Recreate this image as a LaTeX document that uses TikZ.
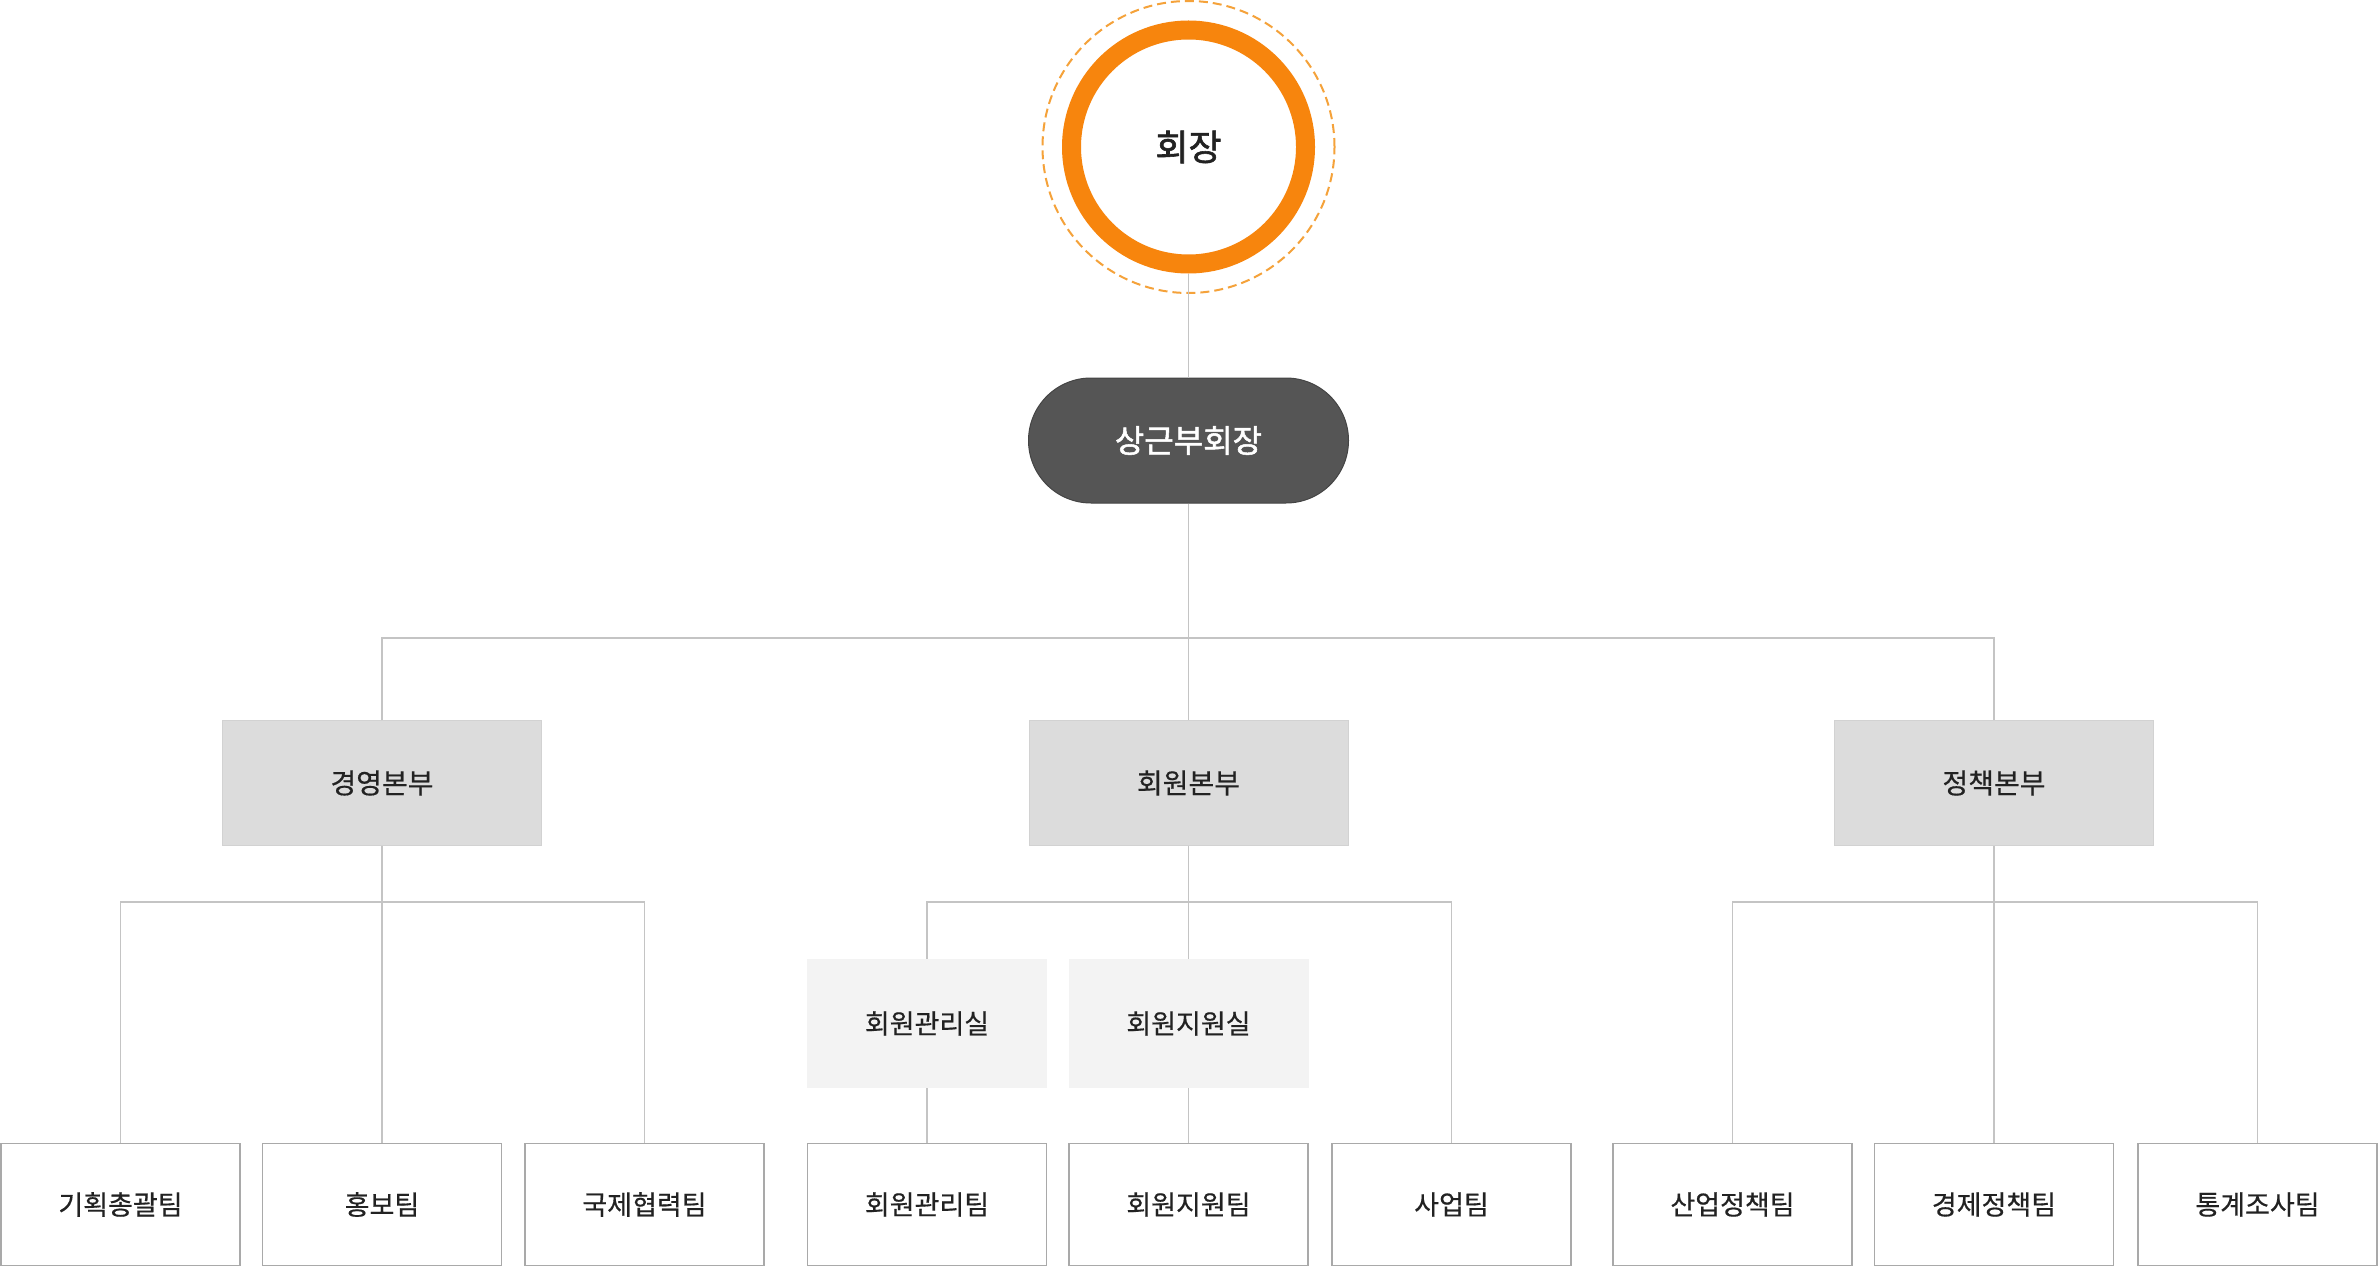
\documentclass[tikz,border=0pt]{standalone}
\usepackage{fontspec}
\setmainfont{Noto Sans CJK KR}
\newfontfamily\krbold[FakeBold=1.6]{Noto Sans CJK KR}
\newfontfamily\krmid[FakeBold=0.5]{Noto Sans CJK KR}
\usetikzlibrary{shapes.misc}
\definecolor{orng}{HTML}{F7850D}
\definecolor{orngd}{HTML}{F5A23A}
\definecolor{pillc}{HTML}{555555}
\definecolor{pilledge}{HTML}{444444}
\definecolor{divfill}{HTML}{DCDCDC}
\definecolor{divedge}{HTML}{D2D2D2}
\definecolor{offfill}{HTML}{F3F3F3}
\definecolor{linec}{HTML}{C4C4C4}
\definecolor{boxedge}{HTML}{A9A9A9}
\definecolor{txt}{HTML}{222222}
\begin{document}
\begin{tikzpicture}[x=1pt,y=-1pt,
  ceostyle/.style={circle,draw=orng,line width=19pt,fill=white,minimum size=234pt,inner sep=0pt,
    text=txt,font=\krbold\fontsize{36}{42}\selectfont},
  vpstyle/.style={rounded rectangle,draw=pilledge,line width=1pt,fill=pillc,minimum width=320pt,
    minimum height=125pt,inner sep=0pt,text=white,font=\krbold\fontsize{32}{38}\selectfont},
  divbox/.style={rectangle,draw=divedge,line width=1pt,fill=divfill,minimum width=319pt,
    minimum height=125pt,inner sep=0pt,text=txt,font=\krmid\fontsize{28}{32}\selectfont},
  offbox/.style={rectangle,fill=offfill,minimum width=240pt,minimum height=129pt,inner sep=0pt,
    text=txt,font=\krmid\fontsize{27}{32}\selectfont},
  teambox/.style={rectangle,draw=boxedge,line width=1.5pt,fill=white,minimum width=239pt,
    minimum height=122pt,inner sep=0pt,text=txt,font=\krmid\fontsize{27}{32}\selectfont},
  conn/.style={draw=linec,line width=1.5pt}]
\useasboundingbox (0,0) rectangle (2378,1268);
\fill[white] (0,0) rectangle (2378,1268);

% nodes
\node[vpstyle] (vp) at (1188.5,440.5) {상근부회장};
\node[divbox] (d1) at (382,783) {경영본부};
\node[divbox] (d2) at (1188.5,783) {회원본부};
\node[divbox] (d3) at (1994,783) {정책본부};
\node[offbox] (o1) at (927,1023.5) {회원관리실};
\node[offbox] (o2) at (1188.5,1023.5) {회원지원실};
\node[teambox] (t1) at (120.5,1204.5) {기획총괄팀};
\node[teambox] (t2) at (382,1204.5) {홍보팀};
\node[teambox] (t3) at (644.5,1204.5) {국제협력팀};
\node[teambox] (t4) at (927,1204.5) {회원관리팀};
\node[teambox] (t5) at (1188.5,1204.5) {회원지원팀};
\node[teambox] (t6) at (1451.5,1204.5) {사업팀};
\node[teambox] (t7) at (1732.5,1204.5) {산업정책팀};
\node[teambox] (t8) at (1994,1204.5) {경제정책팀};
\node[teambox] (t9) at (2257.5,1204.5) {통계조사팀};

\draw[orngd,line width=2pt,dash pattern=on 9pt off 5pt] (1188.5,147) circle[radius=146pt];
\node[ceostyle] (ceo) at (1188.5,147) {회장};

% connectors
\path (d1.north) ++(0,-82) coordinate (hm);
\path (d1.south) ++(0,56) coordinate (h1);
\path (d2.south) ++(0,56) coordinate (h2);
\path (d3.south) ++(0,56) coordinate (h3);
\draw[conn] (ceo.south) -- (vp.north);
\draw[conn] (vp.south) -- (d2.north);
\draw[conn] (d1.north) |- (hm) -| (d3.north);
\draw[conn] (d1.south) -- (h1);
\draw[conn] (t1.north) |- (h1) -| (t3.north);
\draw[conn] (h1) -- (t2.north);
\draw[conn] (d2.south) -- (h2);
\draw[conn] (o1.north) |- (h2) -| (t6.north);
\draw[conn] (h2) -- (o2.north);
\draw[conn] (o1.south) -- (t4.north);
\draw[conn] (o2.south) -- (t5.north);
\draw[conn] (d3.south) -- (h3);
\draw[conn] (t7.north) |- (h3) -| (t9.north);
\draw[conn] (h3) -- (t8.north);
\end{tikzpicture}
\end{document}
